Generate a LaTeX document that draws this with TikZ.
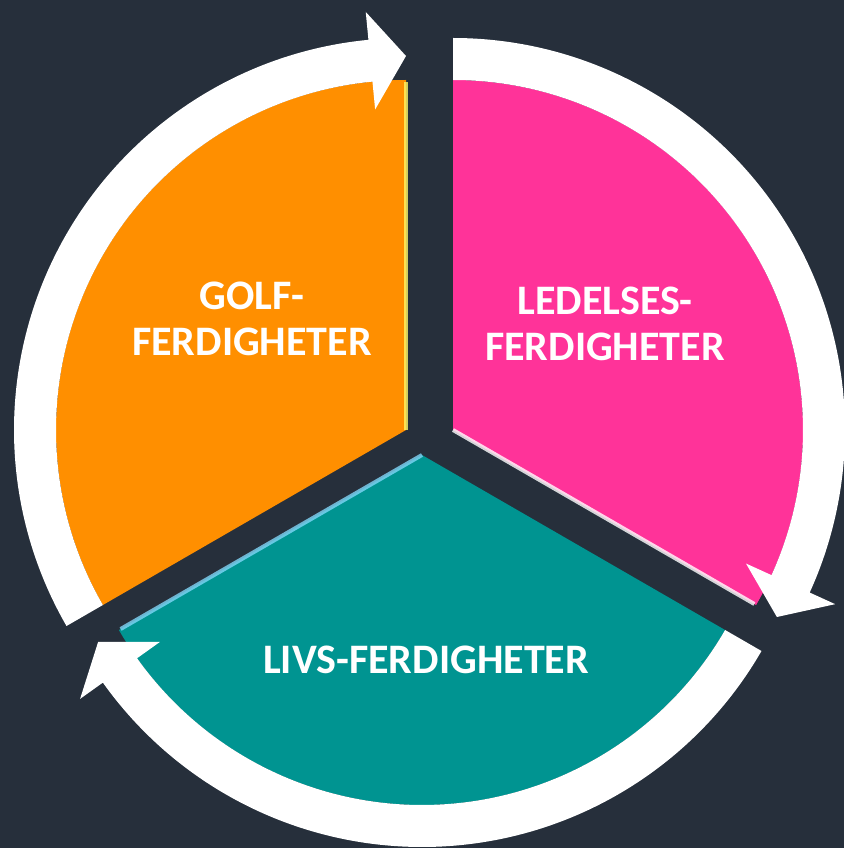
\documentclass[tikz,border=0pt]{standalone}
\usepackage{fontspec}
\setmainfont{Carlito}
\usetikzlibrary{positioning}
\definecolor{bgdark}{RGB}{38,47,59}
\definecolor{golforange}{RGB}{255,143,0}
\definecolor{ledpink}{RGB}{255,51,153}
\definecolor{livsteal}{RGB}{0,148,145}
\tikzset{lbl/.style={text=white, font=\bfseries\fontsize{21}{23}\selectfont, align=center}}

\begin{document}
\begin{tikzpicture}[x=0.5pt,y=0.5pt]
  \useasboundingbox (0,0) rectangle (844,848);
  \clip (0,0) rectangle (844,848);
  \fill[bgdark] (0,0) rectangle (844,848);
  % slice + white arrow ring: centre x/y, first angle, colour, edge highlight
  \foreach \cx/\cy/\a/\col/\hl in {406/418/90/golforange/yellow!60, 453/418/-30/ledpink/white, 422/393/210/livsteal/cyan!50} {
    \begin{scope}[shift={(\cx,\cy)}]
      \fill[\col] (0,0) -- (\a:350) arc[start angle=\a, delta angle=120, radius=350] -- cycle;
      \draw[\hl, line width=2pt, opacity=.8] (0,0) -- (\a:348);
      \fill[white] ({\a+120}:392) arc[start angle=\a+120, end angle=\a+5.5, radius=392]
        -- ({\a+5.5}:420) -- (\a:374) -- ({\a+5.5}:322) -- ({\a+5.5}:350)
        arc[start angle=\a+5.5, end angle=\a+120, radius=350] -- cycle;
    \end{scope}
  }
  \node[lbl] (golf) at (252,529) {GOLF-\\FERDIGHETER};
  \node[lbl] (ledelse) at (605,524) {LEDELSES-\\FERDIGHETER};
  \node[lbl] (livs) at (426,188) {LIVS-FERDIGHETER};
\end{tikzpicture}
\end{document}
